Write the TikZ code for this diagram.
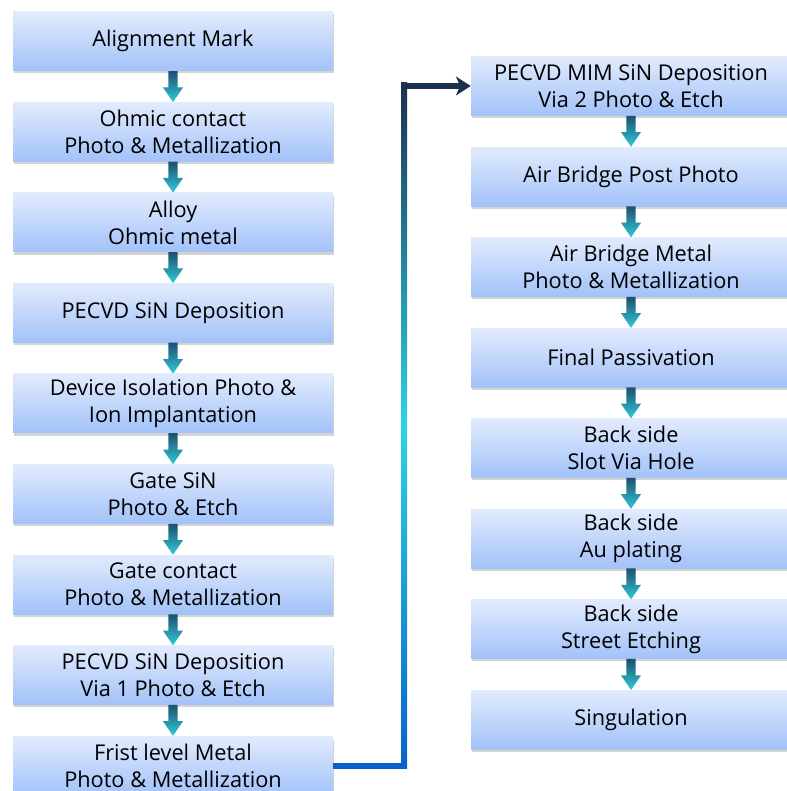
\documentclass[tikz,border=0pt]{standalone}
\usepackage{fontspec}
\setmainfont{Open Sans}
\usetikzlibrary{
  arrows.meta,
  positioning,
  calc,
  shadows
}
\definecolor{boxtop}{HTML}{E2EBFD}
\definecolor{boxbot}{HTML}{A2C2F9}
\definecolor{flowtop}{HTML}{1E4F6E}
\definecolor{flowbot}{HTML}{2FCBDB}
\definecolor{bignavy}{HTML}{1B3150}
\definecolor{bigcyan}{HTML}{2ED3E3}
\definecolor{bigblue}{HTML}{0A62C8}

\begin{document}
\begin{tikzpicture}[
  node distance=23.25pt,
  stepbox/.style={minimum width=240pt, minimum height=44.25pt, inner sep=2pt,
    top color=boxtop, bottom color=boxbot, align=center,
    font=\fontsize{16.3}{20.25}\selectfont,
    drop shadow={shadow xshift=1pt, shadow yshift=-2pt, opacity=.35}},
  flowarrow/.style={top color=flowtop, bottom color=flowbot},
  bigline/.style={line width=4.5pt}
]
  \useasboundingbox (0,0) rectangle (589.5pt,-593.25pt);

  % Left column
  \node[stepbox] (f1) at (129.75pt,-31pt) {Alignment Mark};
  \node[stepbox, below=of f1] (f2) {Ohmic contact\\Photo \& Metallization};
  \node[stepbox, below=of f2] (f3) {Alloy\\Ohmic metal};
  \node[stepbox, below=of f3] (f4) {PECVD SiN Deposition};
  \node[stepbox, below=of f4] (f5) {Device Isolation Photo \&\\Ion Implantation};
  \node[stepbox, below=of f5] (f6) {Gate SiN\\Photo \& Etch};
  \node[stepbox, below=of f6] (f7) {Gate contact\\Photo \& Metallization};
  \node[stepbox, below=of f7] (f8) {PECVD SiN Deposition\\Via 1 Photo \& Etch};
  \node[stepbox, below=of f8] (f9) {Frist level Metal\\Photo \& Metallization};

  % Right column
  \node[stepbox] (r1) at (473.25pt,-64.5pt) {PECVD MIM SiN Deposition\\Via 2 Photo \& Etch};
  \node[stepbox, below=of r1] (r2) {Air Bridge Post Photo};
  \node[stepbox, below=of r2] (r3) {Air Bridge Metal\\Photo \& Metallization};
  \node[stepbox, below=of r3] (r4) {Final Passivation};
  \node[stepbox, below=of r4] (r5) {Back side\\Slot Via Hole};
  \node[stepbox, below=of r5] (r6) {Back side\\Au plating};
  \node[stepbox, below=of r6] (r7) {Back side\\Street Etching};
  \node[stepbox, below=of r7] (r8) {Singulation};

  % Down arrows
  \foreach \a/\b in {f1/f2, f2/f3, f3/f4, f4/f5, f5/f6, f6/f7, f7/f8, f8/f9,
                     r1/r2, r2/r3, r3/r4, r4/r5, r5/r6, r6/r7, r7/r8}
    \shade[flowarrow] ($(\a.south)+(-3.4pt,0)$) -- ($(\a.south)+(3.4pt,0)$)
      -- ($(\b.north)+(3.4pt,11pt)$) -- ($(\b.north)+(7.5pt,11pt)$)
      -- (\b.north) -- ($(\b.north)+(-7.5pt,11pt)$)
      -- ($(\b.north)+(-3.4pt,11pt)$) -- cycle;

  % Column change
  \coordinate (bendx) at (303pt,0);
  \coordinate (bendlo) at (f9.east -| bendx);
  \coordinate (bendhi) at (r1.west -| bendx);
  \draw[bigline, bigblue] (f9.east) -- (bendlo);
  \shade[top color=bignavy, bottom color=bigblue, middle color=bigcyan]
    ($(bendhi)+(-2.25pt,2.25pt)$) rectangle ($(bendlo)+(2.25pt,-2.25pt)$);
  \draw[bigline, bignavy, -{Stealth[length=11pt, width=14pt, inset=3pt]}]
    (bendhi) -- (r1.west);

\end{tikzpicture}
\end{document}
